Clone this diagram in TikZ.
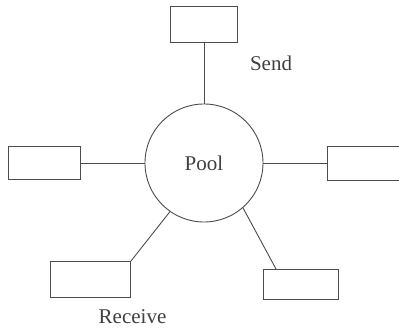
\documentclass[tikz,border=0pt]{standalone}
\usepackage{fontspec}
\setmainfont{Liberation Serif}
\usepackage{tikz}
\usetikzlibrary{positioning,calc}

\begin{document}
\begin{tikzpicture}[
  every node/.style={text=black!75},
  pool/.style={draw=black!70,line width=0.9pt,circle,minimum size=118pt,inner sep=0pt,font=\fontsize{21}{25}\selectfont},
  proc/.style={draw=black!70,line width=0.9pt,inner sep=0pt},
  lbl/.style={font=\fontsize{21}{25}\selectfont},
  link/.style={draw=black!70,line width=0.9pt}]
\useasboundingbox (-204pt,-165pt) rectangle (195pt,163pt);
\node[pool] (pool) at (0,0) {Pool};
\node[proc,minimum width=67pt,minimum height=36pt,above=61pt of pool] (sendbox) {};
\node[proc,minimum width=72pt,minimum height=33pt,left=64pt of pool] (westbox) {};
\node[proc,minimum width=80pt,minimum height=34pt,right=64pt of pool] (eastbox) {};
\node[proc,minimum width=80pt,minimum height=36pt,below left=56pt and 31pt of pool] (recvbox) {};
\node[proc,minimum width=75pt,minimum height=30pt,below right=64pt and 17pt of pool] (sebox) {};
\node[lbl] (sendlbl) at ($(sendbox.south)+(67pt,-21pt)$) {Send};
\node[lbl] (recvlbl) at ($(recvbox.south)+(42pt,-19pt)$) {Receive};
\draw[link] (sendbox) -- (pool);
\draw[link] (westbox) -- (pool);
\draw[link] (eastbox) -- (pool);
\draw[link] (recvbox.north east) -- (pool.-125);
\draw[link] ($(sebox.north west)+(13pt,0)$) -- (pool.-49);
\end{tikzpicture}
\end{document}
